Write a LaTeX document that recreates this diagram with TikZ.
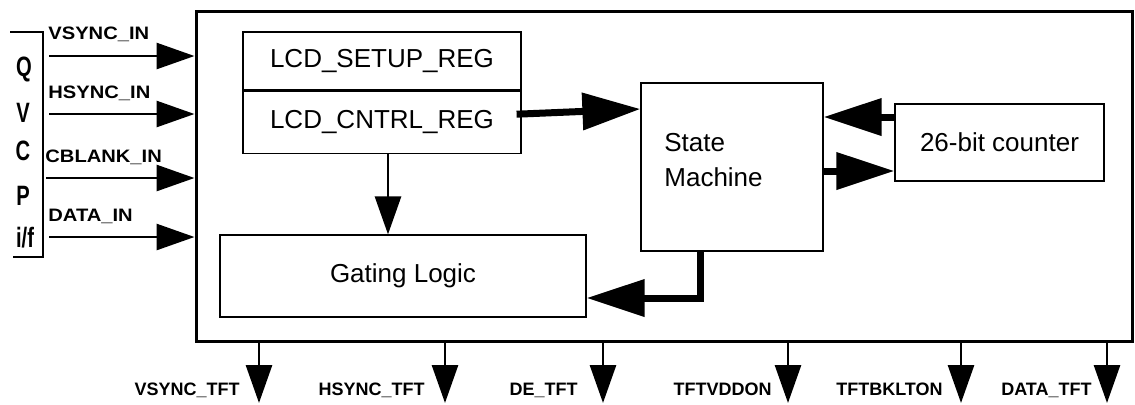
\documentclass[tikz,border=0pt]{standalone}
\usepackage{fontspec}
\setmainfont{Liberation Sans}
\newfontfamily\pinfont[FakeStretch=1.12]{Liberation Sans}
\newfontfamily\portfont[FakeStretch=0.72]{Liberation Sans}
\usepackage{tikz}
\usetikzlibrary{arrows.meta,calc,positioning}

\begin{document}
\begin{tikzpicture}[
x=0.5pt, y=-0.5pt,
box/.style={draw, line width=0.6pt, inner sep=0pt, font=\fontsize{13}{15.6}\selectfont},
sig/.style={line width=1.4pt, -{Triangle[length=19pt,width=13pt]}},
bus/.style={line width=3.5pt, -{Triangle[length=29pt,width=18pt]}},
pin/.style={inner sep=0pt, font=\pinfont\bfseries\fontsize{9}{10}\selectfont},
outpin/.style={inner sep=0pt, font=\bfseries\fontsize{9}{11}\selectfont},
port/.style={inner sep=0pt, font=\portfont\bfseries\fontsize{14}{16}\selectfont},]
\useasboundingbox (0,0) rectangle (1135,404);

% controller block
\node[draw, line width=1.5pt, minimum width=468pt, minimum height=165pt, inner sep=0pt] (chip) at (664,176) {};

\node[box, minimum width=139pt, minimum height=29pt] (setup) at (382,61) {LCD\_SETUP\_REG};
\node[box, minimum width=139pt, minimum height=31pt, below=0pt of setup] (cntrl) {LCD\_CNTRL\_REG};
\node[box, minimum width=183pt, minimum height=41pt] (gating) at (403,276) {Gating Logic};
\node[box, minimum width=91pt, minimum height=84pt] (sm) at (732,167) {};
\node[anchor=west, align=left, inner sep=0pt, font=\fontsize{13}{17.5}\selectfont] (smtext) at (664,160) {State\\Machine};
\node[box, minimum width=104.5pt, minimum height=38.5pt] (counter) at (999.5,142.5) {26-bit counter};

\draw[bus] ([xshift=-2.5pt,yshift=4pt]cntrl.east) -- ([yshift=29pt]sm.west);
\draw[bus] ([yshift=12.75pt]counter.west) -- ([yshift=25pt]sm.east);
\draw[bus] ([yshift=-2pt]sm.east) -- ([yshift=-14.25pt]counter.west);
\draw[bus] ([xshift=-16pt]sm.south) |- ([yshift=-11pt]gating.east);
\draw[sig] ([xshift=3pt]cntrl.south) -- ([xshift=3pt]cntrl.south |- gating.north);

% QVCP interface
\draw[line width=1pt] (10,32) -- (43,32) -- (43,257) -- (13,257);
\node[port, anchor=base] (pq) at (24,76) {Q};
\node[port, anchor=base] (pv) at (23,122) {V};
\node[port, anchor=base] (pc) at (23,160) {C};
\node[port, anchor=base] (pp) at (23,205) {P};
\node[port, anchor=base] (pif) at (25,247) {i/f};

\coordinate (vsin) at (49,56);
\coordinate (hsin) at (49,114);
\coordinate (cbin) at (46,178);
\coordinate (datin) at (49,237);
\node[pin, anchor=base west] (vsinlbl) at (48,39.5) {VSYNC\_IN};
\node[pin, anchor=base west] (hsinlbl) at (48,98.5) {HSYNC\_IN};
\node[pin, anchor=base west] (cbinlbl) at (45,162.5) {CBLANK\_IN};
\node[pin, anchor=base west] (datinlbl) at (48,221) {DATA\_IN};
\draw[sig] (vsin) -- (vsin -| chip.west);
\draw[sig] (hsin) -- (hsin -| chip.west);
\draw[sig] (cbin) -- (cbin -| chip.west);
\draw[sig] (datin) -- (datin -| chip.west);

% TFT outputs
\coordinate (vsout) at (259,403);
\coordinate (hsout) at (445,403);
\coordinate (deout) at (603,403);
\coordinate (vddout) at (788,403);
\coordinate (bklout) at (961,403);
\coordinate (datout) at (1107,403);
\draw[sig] (vsout |- chip.south) -- (vsout);
\draw[sig] (hsout |- chip.south) -- (hsout);
\draw[sig] (deout |- chip.south) -- (deout);
\draw[sig] (vddout |- chip.south) -- (vddout);
\draw[sig] (bklout |- chip.south) -- (bklout);
\draw[sig] (datout |- chip.south) -- (datout);
\node[outpin, anchor=base east] (vsoutlbl) at (240,395) {VSYNC\_TFT};
\node[outpin, anchor=base east] (hsoutlbl) at (425,395) {HSYNC\_TFT};
\node[outpin, anchor=base east] (deoutlbl) at (578,395) {DE\_TFT};
\node[outpin, anchor=base east] (vddoutlbl) at (772,395) {TFTVDDON};
\node[outpin, anchor=base east] (bkloutlbl) at (943,395) {TFTBKLTON};
\node[outpin, anchor=base east] (datoutlbl) at (1092,395) {DATA\_TFT};
\end{tikzpicture}
\end{document}
